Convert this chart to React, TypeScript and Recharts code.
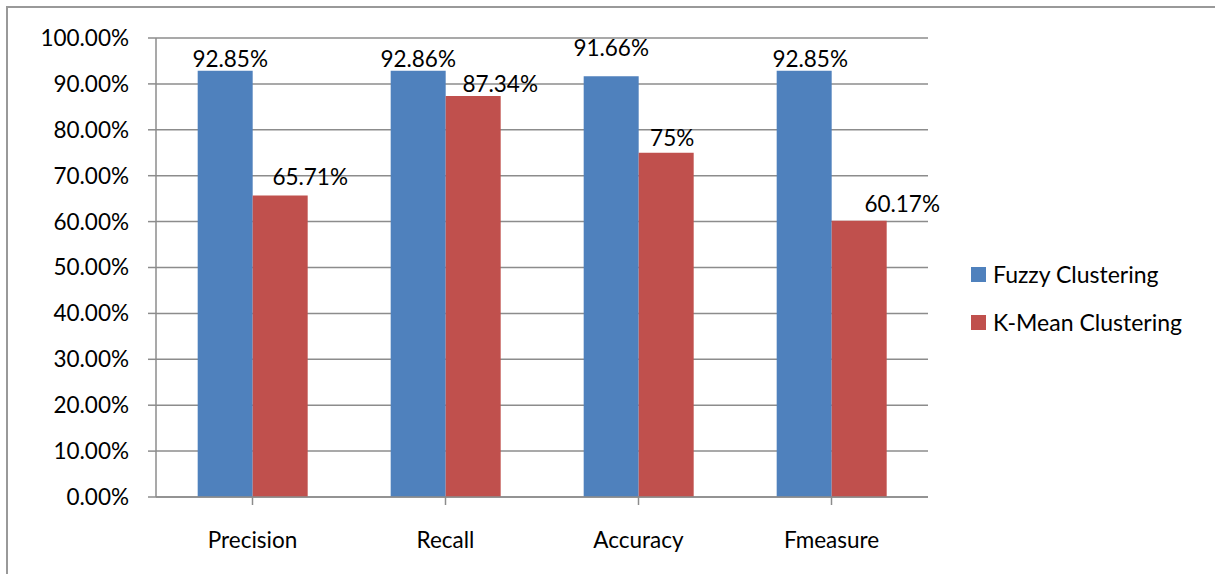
import { BarChart, Bar, XAxis, YAxis, CartesianGrid, LabelList } from 'recharts';

const categories = ['Precision', 'Recall', 'Accuracy', 'Fmeasure'];
const fuzzyValues = [92.85, 92.86, 91.66, 92.85];
const kmeanValues = [65.71, 87.34, 75, 60.17];
const fuzzyLabels = ['92.85%', '92.86%', '91.66%', '92.85%'];
const kmeanLabels = ['65.71%', '87.34%', '75%', '60.17%'];
const yTicks = [0, 10, 20, 30, 40, 50, 60, 70, 80, 90, 100];
const seriesNames = ['Fuzzy Clustering', 'K-Mean Clustering'];

const data = categories.map((name, i) => ({
  name,
  fuzzy: fuzzyValues[i],
  kmean: kmeanValues[i],
}));

const BLUE = '#4F81BD';
const RED = '#C0504D';
const GRID = '#8c8c8c';
const FONT = 'Lato, "Noto Sans", sans-serif';
const FS = 22.5;

// manual label nudges (Excel labels were dragged around)
const fuzzyNudge = [[5, 0], [0, 0], [0, -16], [6, 0]];
const kmeanNudge = [[30, -6], [27, 0], [6, -3], [43, -5]];

const makeLabel = (labels: string[], nudge: number[][]) => (props: any) => {
  const { x, y, width, index } = props;
  const [dx, dy] = nudge[index];
  return (
    <text
      x={x + width / 2 + dx}
      y={y - 4 + dy}
      textAnchor="middle"
      fontSize={FS}
      fontFamily={FONT}
      fill="#000"
    >
      {labels[index]}
    </text>
  );
};

export default function App() {
  return (
    <div style={{ position: 'absolute', left: 6, top: 6, borderLeft: '2px solid #999', borderTop: '2px solid #999', width: 1207, height: 566, overflow: 'hidden' }}>
      <BarChart
        width={1207}
        height={570}
        data={data}
        margin={{ top: 30, right: 287, left: 0, bottom: 21 }}
        barCategoryGap="21.6%"
        barGap={0}
      >
        <CartesianGrid vertical={false} stroke={GRID} strokeWidth={1.5} />
        <XAxis
          dataKey="name"
          height={60}
          tickSize={8}
          tickMargin={27}
          axisLine={{ stroke: GRID, strokeWidth: 1.5 }}
          tickLine={{ stroke: GRID, strokeWidth: 1.5 }}
          tick={{ fill: '#000', fontSize: FS, fontFamily: FONT }}
          interval={0}
        />
        <YAxis
          width={148}
          domain={[0, 100]}
          ticks={yTicks}
          interval={0}
          tickSize={8}
          tickMargin={19}
          axisLine={{ stroke: GRID, strokeWidth: 1.5 }}
          tickLine={{ stroke: GRID, strokeWidth: 1.5 }}
          tick={{ fill: '#000', fontSize: FS, fontFamily: FONT }}
          tickFormatter={v => `${v.toFixed(2)}%`}
        />
        <Bar dataKey="fuzzy" name={seriesNames[0]} fill={BLUE} isAnimationActive={false}>
          <LabelList dataKey="fuzzy" content={makeLabel(fuzzyLabels, fuzzyNudge)} />
        </Bar>
        <Bar dataKey="kmean" name={seriesNames[1]} fill={RED} isAnimationActive={false}>
          <LabelList dataKey="kmean" content={makeLabel(kmeanLabels, kmeanNudge)} />
        </Bar>
      </BarChart>
      <div style={{ position: 'absolute', left: 963, top: 242, fontFamily: FONT, fontSize: 23, color: '#000' }}>
        {[BLUE, RED].map((color, i) => (
          <div key={seriesNames[i]} style={{ display: 'flex', alignItems: 'center', height: 48, whiteSpace: 'nowrap' }}>
            <span style={{ width: 15, height: 15, background: color, marginRight: 7, display: 'inline-block' }} />
            <span>{seriesNames[i]}</span>
          </div>
        ))}
      </div>
    </div>
  );
}
